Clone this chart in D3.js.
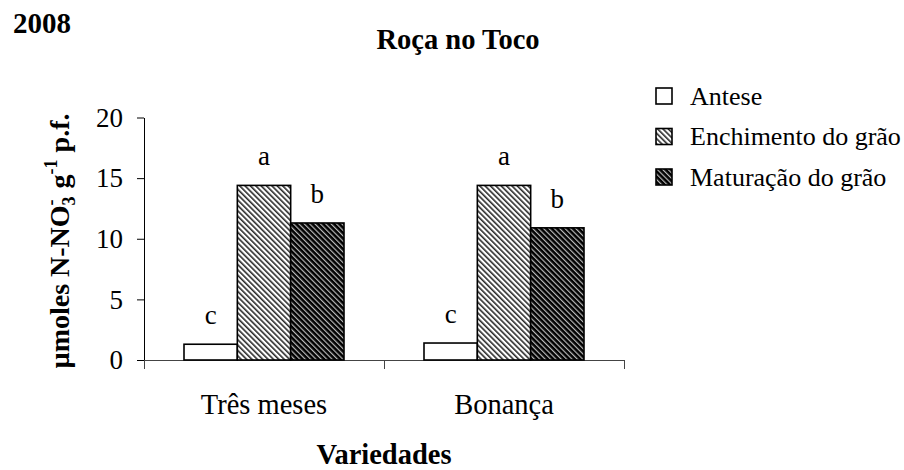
<!DOCTYPE html>
<html>
<head>
<meta charset="utf-8">
<script src="https://cdn.jsdelivr.net/npm/d3@7"></script>
<style>
  html, body { margin: 0; padding: 0; background: #fff; }
  svg { display: block; }
</style>
</head>
<body>
<svg id="chart" width="904" height="470"></svg>
<script>
// ---- data ----
const categories = ["Três meses", "Bonança"];
const seriesNames = ["Antese", "Enchimento do grão", "Maturação do grão"];
const antese = [1.3, 1.4];
const enchimento = [14.4, 14.4];
const maturacao = [11.3, 10.9];
const anteseLetters = ["c", "c"];
const enchimentoLetters = ["a", "a"];
const maturacaoLetters = ["b", "b"];
const yTicks = [0, 5, 10, 15, 20];

const seriesValues = [antese, enchimento, maturacao];
const seriesLetters = [anteseLetters, enchimentoLetters, maturacaoLetters];
const seriesFill = ["#fff", "url(#hatchLight)", "url(#hatchDark)"];

const FONT = "'Liberation Serif', 'Times New Roman', Times, 'DejaVu Serif', serif";

const svg = d3.select("#chart").attr("font-family", FONT);

// ---- patterns ----
const defs = svg.append("defs");
const pLight = defs.append("pattern").attr("id", "hatchLight")
  .attr("patternUnits", "userSpaceOnUse").attr("width", 3.8).attr("height", 3.8)
  .attr("patternTransform", "rotate(-45)");
pLight.append("rect").attr("width", 3.8).attr("height", 3.8).attr("fill", "#fff");
pLight.append("rect").attr("width", 1.6).attr("height", 3.8).attr("fill", "#2a2a2a");

const pDark = defs.append("pattern").attr("id", "hatchDark")
  .attr("patternUnits", "userSpaceOnUse").attr("width", 3.8).attr("height", 3.8)
  .attr("patternTransform", "rotate(-45)");
pDark.append("rect").attr("width", 3.8).attr("height", 3.8).attr("fill", "#000");
pDark.append("rect").attr("width", 1.2).attr("height", 3.8).attr("fill", "#bbb");

// ---- scales ----
const x = d3.scaleBand().domain(categories).range([144, 624]).paddingInner(0).paddingOuter(0);
const xSub = d3.scaleBand().domain(seriesNames).range([40, 200]).padding(0);
const y = d3.scaleLinear().domain([0, 20]).range([360, 117.5]);
const xEdge = d3.scaleLinear().domain([0, categories.length]).range([144, 624]);

function txt(sel, size, weight) {
  return sel.attr("font-family", FONT).style("font-family", FONT)
    .style("font-size", size + "px").style("font-weight", weight || "normal").attr("fill", "#000");
}

// ---- y axis ----
const yAxis = svg.append("g").attr("transform", "translate(144,0)")
  .call(d3.axisLeft(y).tickValues(yTicks).tickSize(7).tickSizeOuter(0).tickPadding(14));
yAxis.attr("font-family", FONT);
txt(yAxis.selectAll("text"), 27);
yAxis.selectAll("line,path").attr("stroke", "#000");

// ---- x axis ----
const xAxis = svg.append("g").attr("transform", "translate(0,360)")
  .call(d3.axisBottom(xEdge).tickValues(d3.range(categories.length + 1)).tickFormat("").tickSize(9).tickSizeOuter(0));
xAxis.selectAll("line,path").attr("stroke", "#444");

// ---- bars ----
const groups = svg.append("g").selectAll("g").data(categories).join("g")
  .attr("transform", d => `translate(${x(d)},0)`);

seriesNames.forEach((s, si) => {
  groups.append("rect")
    .attr("x", xSub(s))
    .attr("y", (d, i) => y(seriesValues[si][i]))
    .attr("width", xSub.bandwidth())
    .attr("height", (d, i) => y(0) - y(seriesValues[si][i]))
    .attr("fill", seriesFill[si])
    .attr("stroke", "#000")
    .attr("stroke-width", 1.6);
  txt(groups.append("text"), 27)
    .attr("x", xSub(s) + xSub.bandwidth() / 2)
    .attr("y", (d, i) => y(seriesValues[si][i]) - 20)
    .attr("text-anchor", "middle")
    .text((d, i) => seriesLetters[si][i]);
});

// ---- category labels ----
txt(svg.append("g").selectAll("text").data(categories).join("text"), 28.5)
  .attr("x", d => x(d) + x.bandwidth() / 2)
  .attr("y", 414)
  .attr("text-anchor", "middle")
  .text(d => d);

// ---- titles ----
txt(svg.append("text"), 29, "bold").attr("x", 13).attr("y", 33).text("2008");
txt(svg.append("text"), 28.5, "bold").attr("x", 458).attr("y", 49).attr("text-anchor", "middle").text("Roça no Toco");
txt(svg.append("text"), 28.5, "bold").attr("x", 384).attr("y", 464).attr("text-anchor", "middle").text("Variedades");

// ---- y label ----
const yl = txt(svg.append("text"), 28, "bold")
  .attr("transform", "translate(69,241) rotate(-90)")
  .attr("text-anchor", "middle");
yl.append("tspan").text("µmoles N-NO");
yl.append("tspan").attr("dy", 6).style("font-size", "18px").text("3");
yl.append("tspan").attr("dx", -9).attr("dy", -18).style("font-size", "18px").text("-");
yl.append("tspan").attr("dx", 4).attr("dy", 12).text(" g");
yl.append("tspan").attr("dy", -12).style("font-size", "18px").text("-1");
yl.append("tspan").attr("dy", 12).text(" p.f.");

// ---- legend ----
const legend = svg.append("g").selectAll("g").data(seriesNames).join("g")
  .attr("transform", (d, i) => `translate(656,${88 + i * 40.5})`);
legend.append("rect").attr("width", 16).attr("height", 16)
  .attr("fill", (d, i) => seriesFill[i]).attr("stroke", "#000").attr("stroke-width", 1.6);
txt(legend.append("text"), 26).attr("x", 34).attr("y", 16.5).text(d => d);
</script>
</body>
</html>
